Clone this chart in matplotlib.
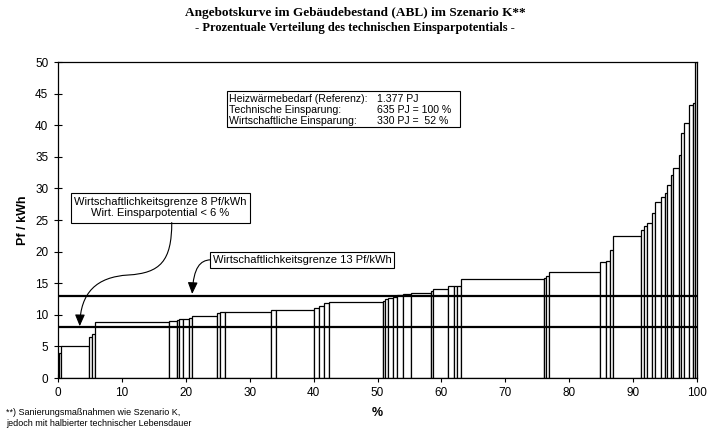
import numpy as np
import matplotlib
matplotlib.use("Agg")
import matplotlib.pyplot as plt
from matplotlib.path import Path
from matplotlib.patches import FancyArrowPatch, Rectangle

plt.rcParams['font.family'] = ['Liberation Sans', 'DejaVu Sans']

# linke Kante jedes Blocks (% des techn. Einsparpotentials) und Kosten in Pf/kWh
kanten = [0.0, 0.2, 0.4, 4.9, 5.3, 5.8, 17.4, 18.6, 19.0, 19.5, 20.5, 21.0,
          24.9, 25.3, 26.2, 33.4, 34.1, 40.1, 40.8, 41.7, 42.4, 50.8, 51.2,
          51.7, 52.5, 53.0, 54.0, 55.2, 58.3, 58.7, 61.1, 62.0, 62.5, 63.1,
          76.0, 76.4, 76.8, 84.8, 85.7, 86.4, 86.8, 91.3, 91.7, 92.1, 92.9,
          93.4, 94.4, 95.0, 95.3, 96.0, 96.2, 97.2, 97.5, 97.9, 98.7, 99.4,
          99.7]
kosten = [3.5, 4.0, 5.0, 6.5, 7.0, 8.8, 9.0, 9.2, 9.3, 9.4, 9.5, 9.8,
          10.3, 10.4, 10.5, 10.7, 10.8, 11.05, 11.4, 11.85, 12.0, 12.2, 12.5,
          12.6, 12.8, 13.1, 13.3, 13.5, 13.8, 14.1, 14.5, 14.55, 14.6, 15.6,
          15.8, 16.2, 16.8, 18.4, 18.5, 20.3, 22.4, 23.4, 24.0, 24.5, 26.1,
          27.9, 28.7, 29.3, 30.6, 32.1, 33.2, 35.3, 38.8, 40.3, 43.2, 43.5,
          50.0]
ende = 100.0
grenzen = [8, 13]

info_labels = ["Heizwärmebedarf (Referenz):", "Technische Einsparung:",
               "Wirtschaftliche Einsparung:"]
info_werte = ["1.377 PJ", "635 PJ = 100 %", "330 PJ =  52 %"]

breiten = np.diff(kanten + [ende])

fig = plt.figure(figsize=(7.1, 4.37), dpi=100)
ax = fig.add_axes([0.0817, 0.135, 0.9, 0.723])

ax.bar(kanten, kosten, width=breiten, align='edge', color='white',
       edgecolor='black', linewidth=0.9, zorder=2)
for g in grenzen:
    ax.axhline(g, color='black', linewidth=1.6, zorder=3)

ax.set_xlim(0, 100)
ax.set_ylim(0, 50)
ax.set_xticks(np.arange(0, 101, 10))
ax.set_yticks(np.arange(0, 51, 5))
ax.tick_params(direction='inout', length=6, width=0.8, labelsize=8.5)
ax.tick_params(axis='y', pad=4)
ax.set_xlabel('%', fontsize=9, fontweight='bold', labelpad=6)
ax.set_ylabel('Pf / kWh', fontsize=9, fontweight='bold', labelpad=4)
for s in ax.spines.values():
    s.set_linewidth(0.9)

# Infobox
ax.add_patch(Rectangle((26.4, 39.7), 36.5, 5.7, facecolor='white',
                       edgecolor='black', linewidth=0.8, zorder=4))
for i, (l, w) in enumerate(zip(info_labels, info_werte)):
    y = 44.3 - i * 1.7
    ax.text(26.8, y, l, fontsize=7.6, va='center_baseline', ha='left', zorder=5)
    ax.text(49.9, y, w, fontsize=7.6, va='center_baseline', ha='left', zorder=5)

# Grenze 8 Pf/kWh
ax.add_patch(Rectangle((2.1, 24.6), 27.9, 4.7, facecolor='white',
                       edgecolor='black', linewidth=0.8, zorder=4))
ax.text(16.05, 26.95, "Wirtschaftlichkeitsgrenze 8 Pf/kWh\nWirt. Einsparpotential < 6 %",
        fontsize=8, ha='center', va='center', linespacing=1.15, zorder=5)
pfad8 = Path([(17.8, 24.6), (17.8, 18.5), (16.0, 16.6), (11.0, 16.3),
              (6.0, 16.0), (3.5, 13.5), (3.4, 8.2)],
             [Path.MOVETO, Path.CURVE4, Path.CURVE4, Path.CURVE4,
              Path.CURVE4, Path.CURVE4, Path.CURVE4])
ax.add_patch(FancyArrowPatch(path=pfad8, arrowstyle='-|>,head_length=0.7,head_width=0.3',
                             mutation_scale=10, color='black', linewidth=0.8, zorder=5))

# Grenze 13 Pf/kWh
ax.add_patch(Rectangle((23.8, 17.4), 28.8, 2.6, facecolor='white',
                       edgecolor='black', linewidth=0.8, zorder=4))
ax.text(38.2, 18.7, "Wirtschaftlichkeitsgrenze 13 Pf/kWh", fontsize=8,
        ha='center', va='center', zorder=5)
pfad13 = Path([(23.8, 18.7), (22.3, 18.6), (21.2, 17.6), (21.0, 13.3)],
              [Path.MOVETO, Path.CURVE4, Path.CURVE4, Path.CURVE4])
ax.add_patch(FancyArrowPatch(path=pfad13, arrowstyle='-|>,head_length=0.7,head_width=0.3',
                             mutation_scale=10, color='black', linewidth=0.8, zorder=5))

fig.text(0.5, 0.97, "Angebotskurve im Gebäudebestand (ABL) im Szenario K**",
         family='Liberation Serif', fontweight='bold', fontsize=9.5, ha='center', va='center')
fig.text(0.5, 0.936, "- Prozentuale Verteilung des technischen Einsparpotentials -",
         family='Liberation Serif', fontweight='bold', fontsize=9, ha='center', va='center')
fig.text(0.009, 0.043, "**) Sanierungsmaßnahmen wie Szenario K,\njedoch mit halbierter technischer Lebensdauer",
         fontsize=6.5, ha='left', va='center', linespacing=1.3)

fig.savefig('out.png', dpi=100)
